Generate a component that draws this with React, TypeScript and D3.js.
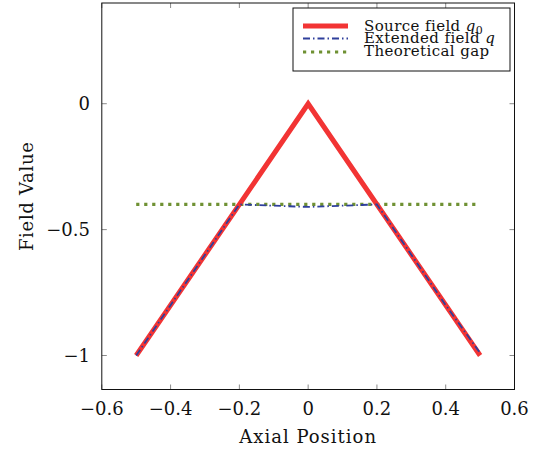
import React from "react";
import * as d3 from "d3";

const sourceX = [-0.5, 0, 0.5];
const sourceY = [-1, 0, -1];
const extX = [-0.5, -0.4, -0.3, -0.2, -0.1, 0, 0.1, 0.2, 0.3, 0.4, 0.5];
const extY = [-1, -0.8, -0.6, -0.4, -0.405, -0.41, -0.405, -0.4, -0.6, -0.8, -0.99];
const gapX = [-0.5, 0.5];
const gapY = [-0.4, -0.4];
const xTicks = [-0.6, -0.4, -0.2, 0, 0.2, 0.4, 0.6];
const yTicks = [-1, -0.5, 0];

const W = 535, H = 452;
const L = 101.8, R = 514.5, T = 3, B = 389.5;

const fmt = (v: number) => (v === 0 ? "0" : (v < 0 ? "\u2212" : "") + String(Math.abs(v)));

export default function App() {
  const x = d3.scaleLinear().domain([-0.6, 0.6]).range([L, R]);
  const y = d3.scaleLinear().domain([-1.135, 0.4]).range([B, T]);
  const line = d3.line<[number, number]>().x((d) => x(d[0])).y((d) => y(d[1]));
  const src = line(sourceX.map((v, i) => [v, sourceY[i]]) as [number, number][]) || "";
  const ext = line(extX.map((v, i) => [v, extY[i]]) as [number, number][]) || "";
  const gap = line(gapX.map((v, i) => [v, gapY[i]]) as [number, number][]) || "";
  const red = "#f23434";
  const blue = "#2f3f9c";
  const green = "#6f9133";
  const font = "'DejaVu Serif', 'Liberation Serif', serif";
  const lx = 293, ly = 8;
  return (
    <svg width={W} height={H} style={{ position: "absolute", left: 0, top: 0, background: "#fff" }} fontFamily={font}>
      <rect x={0} y={0} width={W} height={H} fill="#fff" />
      {xTicks.map((t) => (
        <g key={"xt" + t} stroke="#8a8a8a" strokeWidth={1}>
          <line x1={x(t)} x2={x(t)} y1={B} y2={B - 5} />
          <line x1={x(t)} x2={x(t)} y1={T} y2={T + 5} />
        </g>
      ))}
      {yTicks.map((t) => (
        <g key={"yt" + t} stroke="#8a8a8a" strokeWidth={1}>
          <line x1={L} x2={L + 5} y1={y(t)} y2={y(t)} />
          <line x1={R} x2={R - 5} y1={y(t)} y2={y(t)} />
        </g>
      ))}
      <path d={gap} fill="none" stroke={green} strokeWidth={3.2} strokeDasharray="3.2 4.8" />
      <path d={src} fill="none" stroke={red} strokeWidth={5} strokeLinejoin="miter" />
      <path d={ext} fill="none" stroke={blue} strokeWidth={1.8} strokeDasharray="7 3 1.5 3" />
      <rect x={L} y={T} width={R - L} height={B - T} fill="none" stroke="#111" strokeWidth={1} />
      {xTicks.map((t) => (
        <text key={"xl" + t} x={x(t)} y={415} textAnchor="middle" fontSize={18} fill="#111">
          {fmt(t)}
        </text>
      ))}
      {yTicks.map((t) => (
        <text key={"yl" + t} x={90} y={y(t) + 6.5} textAnchor="end" fontSize={18} fill="#111">
          {fmt(t)}
        </text>
      ))}
      <text x={(L + R) / 2} y={443} textAnchor="middle" fontSize={18} letterSpacing={1} fill="#111">
        Axial Position
      </text>
      <text transform={`translate(33,${(T + B) / 2}) rotate(-90)`} textAnchor="middle" fontSize={18} letterSpacing={0.7} fill="#111">
        Field Value
      </text>
      <rect x={lx} y={ly} width={217} height={63} fill="#fff" stroke="#111" strokeWidth={1} />
      <line x1={303} x2={348} y1={26} y2={26} stroke={red} strokeWidth={5} />
      <line x1={303} x2={348} y1={38.5} y2={38.5} stroke={blue} strokeWidth={1.8} strokeDasharray="7 3 1.5 3" />
      <line x1={303} x2={348} y1={52} y2={52} stroke={green} strokeWidth={3.2} strokeDasharray="3.2 4.8" />
      <text x={364} y={31} fontSize={15} letterSpacing={0.4} fill="#111">
        Source field <tspan fontStyle="italic">q</tspan>
        <tspan fontSize={11} dy={3}>0</tspan>
      </text>
      <text x={364} y={43.3} fontSize={15} letterSpacing={0.4} fill="#111">
        Extended field <tspan fontStyle="italic">q</tspan>
      </text>
      <text x={364} y={56} fontSize={15} letterSpacing={0.4} fill="#111">
        Theoretical gap
      </text>
    </svg>
  );
}
